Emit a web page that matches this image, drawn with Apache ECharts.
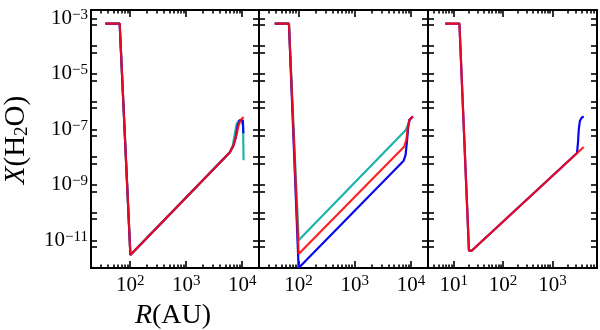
<!DOCTYPE html>
<html><head><meta charset="utf-8">
<script src="https://cdn.jsdelivr.net/npm/echarts@6/dist/echarts.min.js"></script>
<style>html,body{margin:0;padding:0;background:#fff}#c{width:600px;height:330px}</style>
</head><body><div id="c"></div>
<script>
// ---- axis ranges & tick labels ----
const xRangeA = [20, 20000];
const xRangeB = [3, 8000];
const yRange = [1e-12, 2e-3];
const xLabelsA = [100, 1000, 10000];
const xLabelsB = [10, 100, 1000];
const yLabels = [1e-3, 1e-5, 1e-7, 1e-9, 1e-11];
const yMajor = [1e-12, 1e-11, 1e-10, 1e-9, 1e-8, 1e-7, 1e-6, 1e-5, 1e-4, 1e-3];
const yPair = [5.8e-12, 5.8e-11, 5.8e-10, 5.8e-9, 5.8e-8, 5.8e-7, 5.8e-6, 5.8e-5, 5.8e-4];

// ---- panel 1 ----
const p1Cyan = [[36,6.5e-4],[65,6.5e-4],[101,2.95e-12],[6000,1.45e-8],[6800,2.5e-8],[7400,7e-8],[8000,1.6e-7],[8800,2.1e-7],[9800,2.0e-7],[10400,1.3e-7],[10600,7.6e-9]];
const p1Blue = [[36,6.5e-4],[65,6.5e-4],[101,2.95e-12],[6000,1.45e-8],[7000,2.6e-8],[7700,5e-8],[8300,1.3e-7],[9000,2.1e-7],[9700,2.4e-7],[10300,2.1e-7],[10500,7.2e-8]];
const p1Red  = [[36,6.5e-4],[65,6.5e-4],[101,2.95e-12],[6000,1.45e-8],[7000,2.6e-8],[8000,7e-8],[8700,1.5e-7],[9500,2.2e-7],[10600,2.8e-7]];
// ---- panel 2 ----
const p2Cyan = [[38,6.5e-4],[68,6.5e-4],[101,1.0e-11],[8000,9.3e-8],[8800,1.4e-7],[9400,2.2e-7],[10800,2.9e-7]];
const p2Blue = [[38,6.5e-4],[68,6.5e-4],[101,1.0e-12],[7400,7.4e-9],[8000,1.2e-8],[8500,4e-8],[8900,1.2e-7],[9400,2.2e-7],[10800,2.9e-7]];
const p2Red  = [[38,6.5e-4],[68,6.5e-4],[101,3.2e-12],[7600,2.4e-8],[8300,4.5e-8],[8800,1.2e-7],[9400,2.2e-7],[10800,2.9e-7]];
// ---- panel 3 ----
const p3Blue = [[6.7,6.5e-4],[13,6.5e-4],[20.3,4.2e-12],[23,4.2e-12],[3150,1.4e-8],[3300,3.5e-8],[3420,1e-7],[3600,2.0e-7],[3900,2.6e-7],[4300,2.9e-7]];
const p3Red  = [[6.7,6.5e-4],[13,6.5e-4],[20.3,4.2e-12],[23,4.2e-12],[4300,2.3e-8]];

const FONT = '"Liberation Serif","DejaVu Serif",serif';
const colCyan = '#1db3ad', colBlue = '#0808ee', colRed = '#ff0a0a';

function minorTicks(range) {
  const out = [];
  for (let e = -1; e <= 5; e++) for (let m = 2; m <= 9; m++) {
    const v = m * Math.pow(10, e);
    if (v > range[0] * 1.001 && v < range[1] * 0.999) out.push(v);
  }
  return out;
}
function fmtPow(v) {
  const e = Math.round(Math.log10(v));
  return '{b|10}{s|' + String(e).replace('-', '\u2212') + '}';
}
const labelRich = {
  b: {fontSize: 21, fontFamily: FONT, color: '#000', lineHeight: 22},
  s: {fontSize: 15, fontFamily: FONT, color: '#000', lineHeight: 10, verticalAlign: 'top'}
};
function xAx(grid, range, pos, ticks, len, labels) {
  return {
    type: 'log', logBase: 10, gridIndex: grid, min: range[0], max: range[1], position: pos,
    axisLine: {show: false}, splitLine: {show: false}, minorTick: {show: false},
    axisTick: {show: true, inside: true, length: len, customValues: ticks, lineStyle: {color: '#000', width: 1.6}},
    axisLabel: labels ? {show: true, customValues: labels, formatter: fmtPow, rich: labelRich, margin: 6, hideOverlap: false, showMinLabel: true, showMaxLabel: true} : {show: false}
  };
}
function yAx(grid, pos, labels) {
  return {
    type: 'log', logBase: 10, gridIndex: grid, min: yRange[0], max: yRange[1], position: pos,
    axisLine: {show: false}, splitLine: {show: false}, minorTick: {show: false},
    axisTick: {show: true, inside: true, length: 6, customValues: yMajor.concat(yPair), lineStyle: {color: '#000', width: 1.6}},
    axisLabel: labels ? {show: true, customValues: labels, formatter: fmtPow, rich: labelRich, margin: 3, hideOverlap: false} : {show: false}
  };
}

const grids = [
  {left: 91, top: 10, width: 168, height: 258},
  {left: 259, top: 10, width: 169, height: 258},
  {left: 428, top: 10, width: 169, height: 258}
].map(g => Object.assign(g, {show: true, borderColor: '#000', borderWidth: 2, backgroundColor: 'transparent', containLabel: false}));

const xAxes = [], yAxes = [];
[[xRangeA, xLabelsA], [xRangeA, xLabelsA], [xRangeB, xLabelsB]].forEach(([r, lab], g) => {
  const mn = minorTicks(r);
  xAxes.push(xAx(g, r, 'bottom', lab, 7, lab));
  xAxes.push(xAx(g, r, 'bottom', mn, 3.5, null));
  xAxes.push(xAx(g, r, 'top', lab, 7, null));
  xAxes.push(xAx(g, r, 'top', mn, 3.5, null));
  yAxes.push(yAx(g, 'left', g === 0 ? yLabels : null));
  yAxes.push(yAx(g, 'right', null));
});

function line(g, data, color, opacity) {
  return {type: 'line', xAxisIndex: 4 * g, yAxisIndex: 2 * g, data: data, showSymbol: false, symbol: 'none',
    lineStyle: {color: color, width: 2.2, opacity: opacity}, itemStyle: {color: color}, silent: true};
}

const series = [
  line(0, p1Cyan, colCyan, 1), line(0, p1Blue, colBlue, 1), line(0, p1Red, colRed, 0.9),
  line(1, p2Cyan, colCyan, 1), line(1, p2Blue, colBlue, 1), line(1, p2Red, colRed, 0.9),
  line(2, p3Blue, colBlue, 1), line(2, p3Red, colRed, 0.9)
];

const chart = echarts.init(document.getElementById('c'));
chart.setOption({
  animation: false,
  backgroundColor: '#fff',
  grid: grids, xAxis: xAxes, yAxis: yAxes, series: series,
  graphic: [
    {type: 'text', x: 16, y: 140, rotation: Math.PI / 2, style: {
      text: '{i|X}{n|(H}{sub|2}{n|O)}', align: 'center', verticalAlign: 'middle',
      rich: {
        i: {fontSize: 29, fontFamily: FONT, fontStyle: 'italic', fill: '#000', lineHeight: 32},
        n: {fontSize: 29, fontFamily: FONT, fill: '#000', lineHeight: 32},
        sub: {fontSize: 19, fontFamily: FONT, fill: '#000', lineHeight: 14, verticalAlign: 'bottom'}
      }}},
    {type: 'text', x: 173, y: 316, style: {
      text: '{i|R}{n|(AU)}', align: 'center', verticalAlign: 'middle',
      rich: {
        i: {fontSize: 28, fontFamily: FONT, fontStyle: 'italic', fill: '#000'},
        n: {fontSize: 28, fontFamily: FONT, fill: '#000'}
      }}}
  ]
});
</script></body></html>
